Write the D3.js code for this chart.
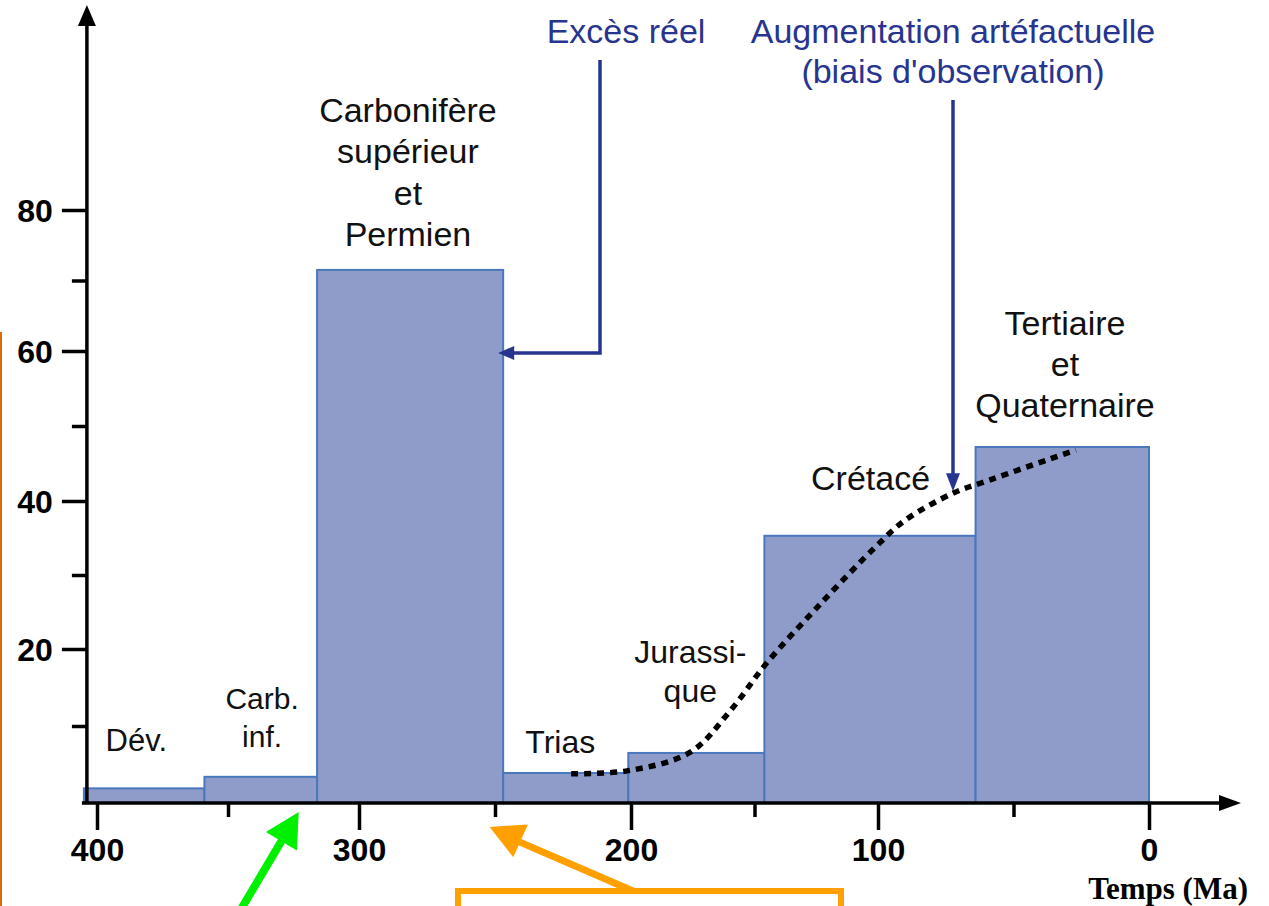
<!DOCTYPE html>
<html>
<head>
<meta charset="utf-8">
<script src="https://cdn.jsdelivr.net/npm/d3@7"></script>
<style>
  html, body { margin: 0; padding: 0; background: #fff; }
  svg { display: block; }
  text { font-family: "Liberation Sans", Arial, Helvetica, sans-serif; }
</style>
</head>
<body>
<svg id="chart" width="1269" height="906"></svg>
<script>
// Geological periods (bins in Ma) and the value recorded in each
const periods   = ["Dév.", "Carb. inf.", "Carbonifère supérieur et Permien", "Trias", "Jurassique", "Crétacé", "Tertiaire et Quaternaire"];
const startMa   = [405, 359, 316, 247, 201, 146, 64];
const endMa     = [359, 316, 247, 201, 146, 64, 0];
const values    = [1.9, 3.4, 71.5, 3.9, 6.5, 35.3, 47.2];

// Observation-bias trend (dotted curve)
const trendMa   = [222, 201, 176, 160, 145, 123, 101, 90, 72, 62, 27];
const trendVal  = [3.8, 4.2, 6.6, 11.9, 18.2, 26.2, 33.8, 37.4, 41.1, 42.4, 46.8];

// Axis ticks
const xMajorTicks = [400, 300, 200, 100, 0];
const xMinorTicks = [350, 250, 150, 50];
const yMajorTicks = [20, 40, 60, 80];
const yMinorTicks = [10, 30, 50, 70];

// Period labels (one entry per line)
const labelLines = [
  ["Dév."],
  ["Carb.", "inf."],
  ["Carbonifère", "supérieur", "et", "Permien"],
  ["Trias"],
  ["Jurassi-", "que"],
  ["Crétacé"],
  ["Tertiaire", "et", "Quaternaire"]
];

const svg = d3.select("#chart");

// Hand-drawn axes are slightly uneven, so the scales are piecewise-linear
const x = d3.scaleLinear().domain([400, 300, 200, 100, 0]).range([97, 359, 631, 878, 1149]);
const y = d3.scaleLinear().domain([0, 20, 40, 60, 80]).range([803, 649, 501, 351, 210]);

const navy = "#27358f";
const barFill = "#8f9bc8";
const barStroke = "#4a78bd";

// Left orange rule
svg.append("line").attr("x1", 1).attr("x2", 1).attr("y1", 332).attr("y2", 906)
  .attr("stroke", "#e06a00").attr("stroke-width", 2);

// Bars
const bars = periods.map((p, i) => ({ name: p, s: startMa[i], e: endMa[i], v: values[i] }));
svg.append("g").selectAll("rect").data(bars).join("rect")
  .attr("x", d => x(d.s))
  .attr("y", d => y(d.v))
  .attr("width", d => x(d.e) - x(d.s))
  .attr("height", d => y(0) - y(d.v))
  .attr("fill", barFill)
  .attr("stroke", barStroke)
  .attr("stroke-width", 2);

// Filled arrowhead helper
function arrowHead(g, tip, dir, len, half, color) {
  const n = Math.hypot(dir[0], dir[1]);
  const ux = dir[0] / n, uy = dir[1] / n;
  const bx = tip[0] - ux * len, by = tip[1] - uy * len;
  const px = -uy, py = ux;
  g.append("path")
    .attr("d", `M${tip[0]},${tip[1]}L${bx + px * half},${by + py * half}L${bx - px * half},${by - py * half}Z`)
    .attr("fill", color);
}

// Axes
const x0 = x(405) + 3;   // y-axis position
const axes = svg.append("g");
axes.append("line").attr("x1", x0).attr("x2", x0).attr("y1", y(0) + 1).attr("y2", 22)
  .attr("stroke", "#000").attr("stroke-width", 3.5);
arrowHead(axes, [x0, 5], [0, -1], 21, 9, "#000");
axes.append("line").attr("x1", x(405) - 2).attr("x2", 1222).attr("y1", y(0)).attr("y2", y(0))
  .attr("stroke", "#000").attr("stroke-width", 3.5);
arrowHead(axes, [1241, y(0)], [1, 0], 22, 8, "#000");

const yAxisMajor = svg.append("g").attr("transform", `translate(${x0},0)`)
  .call(d3.axisLeft(y).tickValues(yMajorTicks).tickSize(25).tickPadding(9).tickFormat(d3.format("d")));
const yAxisMinor = svg.append("g").attr("transform", `translate(${x0},0)`)
  .call(d3.axisLeft(y).tickValues(yMinorTicks).tickSize(15).tickFormat(""));
const xAxisMajor = svg.append("g").attr("transform", `translate(0,${y(0)})`)
  .call(d3.axisBottom(x).tickValues(xMajorTicks).tickSize(27).tickPadding(8).tickFormat(d3.format("d")));
const xAxisMinor = svg.append("g").attr("transform", `translate(0,${y(0)})`)
  .call(d3.axisBottom(x).tickValues(xMinorTicks).tickSize(14).tickFormat(""));

[yAxisMajor, yAxisMinor, xAxisMajor, xAxisMinor].forEach(g => {
  g.select(".domain").remove();
  g.selectAll(".tick line").attr("stroke", "#000").attr("stroke-width", 3.5);
  g.selectAll(".tick text")
    .attr("fill", "#000")
    .style("font-family", "'Liberation Sans', Arial, sans-serif")
    .style("font-weight", "bold")
    .style("font-size", "32px");
});
yAxisMajor.selectAll(".tick text").attr("dy", "0.36em");

svg.append("text").attr("x", 1248).attr("y", 899).attr("text-anchor", "end")
  .style("font-family", "'Liberation Serif', 'Times New Roman', serif")
  .style("font-weight", "bold").style("font-size", "31px").attr("fill", "#000")
  .text("Temps (Ma)");

// Period labels: anchor of the first baseline in data space
const labelPos = [
  { ma: 385, v: 6.75, size: 31, step: 40 },
  { ma: 337, v: 12.2, size: 30, step: 38 },
  { ma: 282, v: 92.5, size: 34, step: 41.5 },
  { ma: 226, v: 6.5, size: 32, step: 40 },
  { ma: 176, v: 18.2, size: 32, step: 39 },
  { ma: 103, v: 41.5, size: 34, step: 40 },
  { ma: 31, v: 62.3, size: 34, step: 41 }
];
const labels = svg.append("g");
labelLines.forEach((lines, i) => {
  const p = labelPos[i];
  const t = labels.append("text")
    .attr("x", x(p.ma)).attr("y", y(p.v))
    .attr("text-anchor", "middle")
    .attr("fill", "#111")
    .style("font-size", p.size + "px");
  lines.forEach((l, j) => t.append("tspan").attr("x", x(p.ma)).attr("dy", j === 0 ? 0 : p.step).text(l));
});

// Dotted trend curve
const trend = trendMa.map((m, i) => [m, trendVal[i]]);
svg.append("path")
  .datum(trend)
  .attr("d", d3.line().x(d => x(d[0])).y(d => y(d[1])).curve(d3.curveCatmullRom.alpha(0.5)))
  .attr("fill", "none")
  .attr("stroke", "#000")
  .attr("stroke-width", 5.5)
  .attr("stroke-dasharray", "7,6");

// Annotations in navy
const ann = svg.append("g");
ann.append("text").attr("x", 626).attr("y", 43).attr("text-anchor", "middle")
  .attr("fill", navy).style("font-size", "34px").text("Excès réel");
const augm = ann.append("text").attr("x", 953).attr("y", 43).attr("text-anchor", "middle")
  .attr("fill", navy).style("font-size", "34px");
augm.append("tspan").attr("x", 953).attr("dy", 0).text("Augmentation artéfactuelle");
augm.append("tspan").attr("x", 953).attr("dy", 40).text("(biais d'observation)");

const exTipX = x(247) - 5, exTipY = y(60) + 2;
ann.append("path")
  .attr("d", `M600,60L600,${exTipY}L${exTipX + 14},${exTipY}`)
  .attr("fill", "none").attr("stroke", navy).attr("stroke-width", 3.5);
arrowHead(ann, [exTipX, exTipY], [-1, 0], 16, 7, navy);

const augTipY = y(41.3);
ann.append("line").attr("x1", 953).attr("x2", 953).attr("y1", 100).attr("y2", augTipY - 14)
  .attr("stroke", navy).attr("stroke-width", 3.5);
arrowHead(ann, [953, augTipY], [0, 1], 18, 7, navy);

// Orange box and arrow at the bottom
const orange = "#ff9f00";
svg.append("rect").attr("x", 458).attr("y", 891).attr("width", 383).attr("height", 60)
  .attr("fill", "none").attr("stroke", orange).attr("stroke-width", 6);
const oTip = [x(252), y(0) + 24];
const oBase = [633, 891];
svg.append("line").attr("x1", oBase[0]).attr("y1", oBase[1])
  .attr("x2", oTip[0] + 0.88 * 28).attr("y2", oTip[1] + 0.45 * 28)
  .attr("stroke", orange).attr("stroke-width", 7);
arrowHead(svg, oTip, [oTip[0] - oBase[0], oTip[1] - oBase[1]], 34, 18, orange);

// Green arrow
const green = "#00f000";
const gTip = [x(323), y(0) + 9];
const gBase = [237, 916];
const gd = [gTip[0] - gBase[0], gTip[1] - gBase[1]];
const gn = Math.hypot(gd[0], gd[1]);
svg.append("line").attr("x1", gBase[0]).attr("y1", gBase[1])
  .attr("x2", gTip[0] - gd[0] / gn * 28).attr("y2", gTip[1] - gd[1] / gn * 28)
  .attr("stroke", green).attr("stroke-width", 8);
arrowHead(svg, gTip, gd, 34, 18, green);
</script>
</body>
</html>
